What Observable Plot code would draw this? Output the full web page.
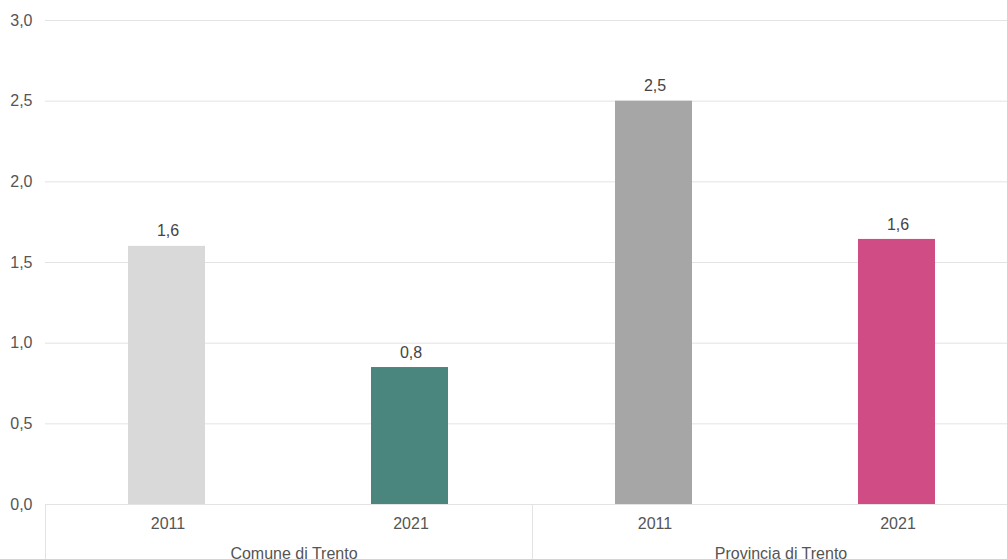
<!DOCTYPE html>
<html>
<head>
<meta charset="utf-8">
<script src="https://cdn.jsdelivr.net/npm/d3@7"></script>
<script src="https://cdn.jsdelivr.net/npm/@observablehq/plot@0.6"></script>
<style>
  html, body { margin: 0; padding: 0; background: #fff; overflow: hidden; }
  #chart { font-family: "Liberation Sans", Arial, sans-serif; }
  #chart svg { max-width: none !important; }
</style>
</head>
<body>
<div id="chart"></div>
<script>
const groups = ["Comune di Trento", "Comune di Trento", "Provincia di Trento", "Provincia di Trento"];
const years = ["2011", "2021", "2011", "2021"];
const values = [1.6, 0.849, 2.5, 1.643];
const colors = ["#d9d9d9", "#4a867e", "#a6a6a6", "#d04c84"];
const yTicks = [0, 0.5, 1, 1.5, 2, 2.5, 3];

const data = values.map((v, i) => ({group: groups[i], year: years[i], value: v, color: colors[i]}));
const fmt = d => d.toFixed(1).replace(".", ",");

const plotHeight = 484;
const chart = Plot.plot({
  width: 1019,
  height: 580,
  marginTop: 20,
  marginBottom: 76,
  marginLeft: 45,
  marginRight: 0,
  style: {fontFamily: "Liberation Sans, Arial, sans-serif", fontSize: "16px", color: "#555", background: "#fff", maxWidth: "none"},
  fx: {domain: ["Comune di Trento", "Provincia di Trento"], padding: 0},
  x: {domain: ["2011", "2021"], paddingInner: 0.684, paddingOuter: 0.342},
  y: {domain: [0, 3]},
  color: {type: "identity"},
  marks: [
    Plot.ruleY(yTicks, {y: d => d, stroke: "#e3e3e3", strokeWidth: 1}),
    Plot.frame({anchor: "left", stroke: "#e3e3e3", insetTop: plotHeight, insetBottom: -90}),
    Plot.barY(data, {fx: "group", x: "year", y: "value", fill: "color", dx: -1}),
    Plot.text(data, {fx: "group", x: "year", y: "value", text: d => fmt(d.value), dy: -15, fill: "#444", fontSize: 16}),
    Plot.axisY({ticks: yTicks, tickFormat: fmt, tickSize: 0, tickPadding: 13, label: null, fill: "#555", fontSize: 16}),
    Plot.axisX({tickSize: 0, tickPadding: 13, label: null, fill: "#555", fontSize: 16}),
    Plot.axisFx({anchor: "bottom", tickSize: 0, tickPadding: 43, dx: 5, label: null, fill: "#555", fontSize: 16})
  ]
});
document.getElementById("chart").appendChild(chart);
</script>
</body>
</html>
